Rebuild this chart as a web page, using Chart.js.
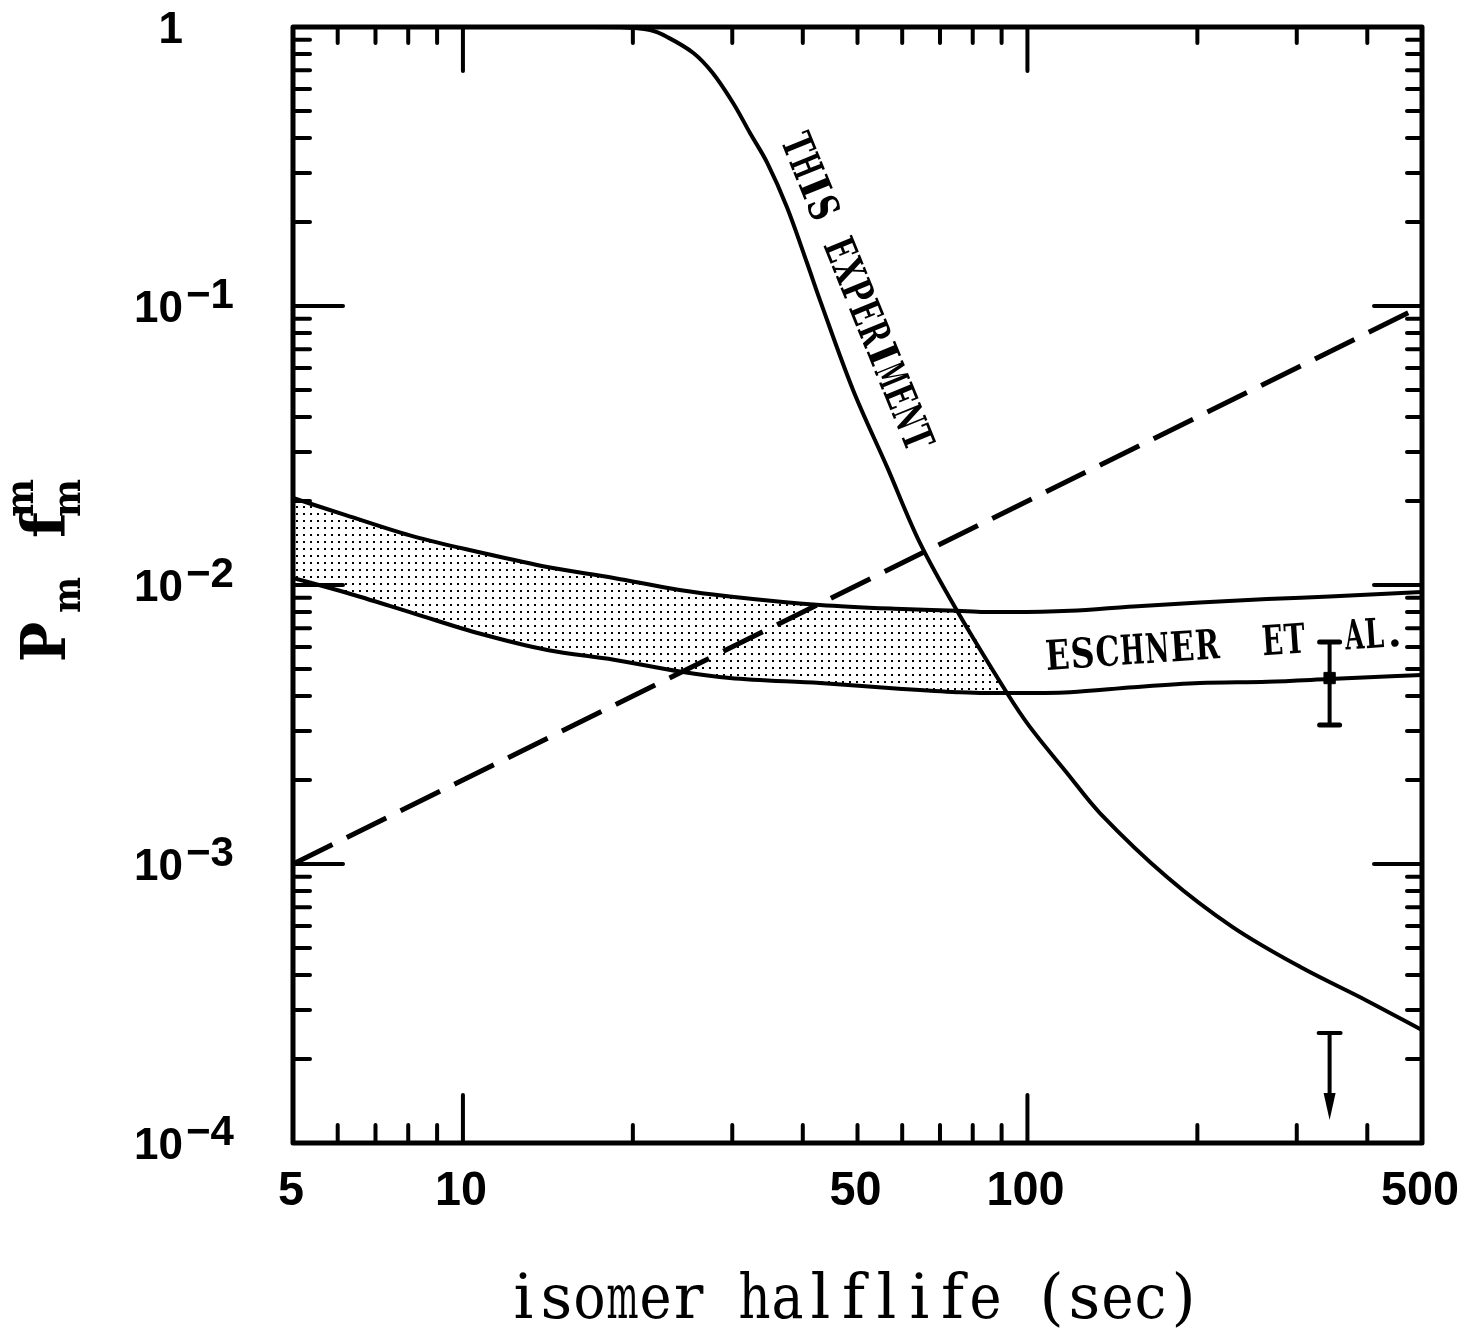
<!DOCTYPE html>
<html>
<head>
<meta charset="utf-8">
<script src="https://cdn.jsdelivr.net/npm/chart.js@4.4.0/dist/chart.umd.min.js"></script>
<style>
  html, body { margin: 0; padding: 0; background: #fff; }
  #wrap { width: 1464px; height: 1333px; }
</style>
</head>
<body>
<div id="wrap"><canvas id="chart" width="1464" height="1333"></canvas></div>
<script>
// "THIS EXPERIMENT" curve
const expX = [5, 10, 15, 19, 21.45, 23.0, 25.6, 27.7, 30.1, 32.25, 34.6, 37.5, 40.7, 42.9, 49.1, 56.4, 64.5, 75, 92, 101, 117.5, 134.5, 176.7, 231, 304, 400, 500];
const expY = [1, 1, 1, 0.998, 0.975, 0.921, 0.807, 0.684, 0.534, 0.417, 0.326, 0.226, 0.1426, 0.105, 0.050, 0.0265, 0.01415, 0.0081, 0.0041, 0.0031, 0.00212, 0.00152, 0.000898, 0.000594, 0.000428, 0.000323, 0.000254];

// Eschner et al. band
const bandX = [5, 6.2, 8.2, 10.7, 14.1, 18.5, 24.2, 29.7, 42.9, 60, 75, 84, 93, 119, 154, 202, 266, 343, 500];
const bandUpper = [0.0205, 0.0178, 0.0149, 0.0131, 0.0116, 0.0106, 0.0096, 0.0091, 0.00848, 0.0082, 0.00808, 0.0080, 0.0080, 0.00808, 0.00838, 0.00865, 0.0089, 0.0091, 0.00944];
const bandLower = [0.0106, 0.0094, 0.0079, 0.0067, 0.00585, 0.0054, 0.0049, 0.00464, 0.00445, 0.00424, 0.00413, 0.0041, 0.0041, 0.00413, 0.0043, 0.00445, 0.0045, 0.0046, 0.00476];

// shaded part of the band (cut off by this experiment)
const shadeX = [5, 6.2, 8.2, 10.7, 14.1, 18.5, 24.2, 29.7, 42.9, 60, 75, 84, 93];
const shadeTop = [0.0205, 0.0178, 0.0149, 0.0131, 0.0116, 0.0106, 0.0096, 0.0091, 0.00848, 0.0082, 0.00808, 0.0056, 0.0041];

// dashed line
const dashX = [5, 500];
const dashY = [0.001, 0.1];

// Eschner point with error bar
const eschX = [343];
const eschY = [0.00464];
const eschLo = [0.00315];
const eschHi = [0.00625];

// upper limit arrow
const limX = [343];
const limY = [0.000248];
const limTip = [0.000121];

// axes
const xMajor = [10, 100];
const xMinor = [6, 7, 8, 9, 20, 30, 40, 50, 60, 70, 80, 90, 200, 300, 400];
const xLabelVals = [5, 10, 50, 100, 500];
const xLabels = ['5', '10', '50', '100', '500'];
const yDecades = [1, 0.1, 0.01, 0.001, 0.0001];
const yExps = ['', '\u22121', '\u22122', '\u22123', '\u22124'];

function pts(xs, ys) {
    return xs.map((v, i) => ({ x: v, y: ys[i] }));
}

// typewriter style: every character in a cell of the same width
function typeText(c, text, x, y, cell) {
    c.textAlign = 'center';
    for (let i = 0; i < text.length; i++) {
        if (text[i] !== ' ') c.fillText(text[i], x + cell * (i + 0.5), y, cell - 1);
    }
}

const ctx = document.getElementById('chart').getContext('2d');

const tile = document.createElement('canvas');
tile.width = 7;
tile.height = 7;
const tc = tile.getContext('2d');
tc.fillStyle = '#000';
tc.fillRect(2, 2, 2, 2);
const dots = ctx.createPattern(tile, 'repeat');

const axesPlugin = {
    id: 'axesPlugin',
    afterDatasetsDraw(chart) {
        const c = chart.ctx;
        const a = chart.chartArea;
        const x = chart.scales.x;
        const y = chart.scales.y;
        c.save();
        c.strokeStyle = '#000';
        c.fillStyle = '#000';
        c.lineCap = 'round';
        const seg = (x1, y1, x2, y2) => { c.beginPath(); c.moveTo(x1, y1); c.lineTo(x2, y2); c.stroke(); };

        c.lineWidth = 4;
        xMinor.forEach(v => {
            const px = x.getPixelForValue(v);
            seg(px, a.bottom, px, a.bottom - 18);
            seg(px, a.top, px, a.top + 16);
        });
        xMajor.forEach(v => {
            const px = x.getPixelForValue(v);
            seg(px, a.bottom, px, a.bottom - 48);
            seg(px, a.top, px, a.top + 44);
        });
        for (let d = 0; d < yDecades.length - 1; d++) {
            const base = yDecades[d + 1];
            for (let k = 2; k <= 9; k++) {
                const py = y.getPixelForValue(base * k);
                seg(a.left, py, a.left + 17, py);
                seg(a.right, py, a.right - 15, py);
            }
            if (d > 0) {
                const py = y.getPixelForValue(yDecades[d]);
                seg(a.left, py, a.left + 50, py);
                seg(a.right, py, a.right - 48, py);
            }
        }

        // frame
        c.lineWidth = 5;
        c.lineJoin = 'round';
        c.strokeRect(a.left, a.top, a.right - a.left, a.bottom - a.top);

        // error bar on Eschner point
        eschX.forEach((v, i) => {
            const px = x.getPixelForValue(v);
            const hi = y.getPixelForValue(eschHi[i]);
            const lo = y.getPixelForValue(eschLo[i]);
            c.lineWidth = 4;
            seg(px, hi, px, lo);
            c.lineWidth = 5;
            seg(px - 10, hi, px + 10, hi);
            seg(px - 10, lo, px + 10, lo);
        });

        // upper limit
        limX.forEach((v, i) => {
            const px = x.getPixelForValue(v);
            const top = y.getPixelForValue(limY[i]);
            const tip = y.getPixelForValue(limTip[i]);
            c.lineWidth = 4;
            seg(px - 11, top, px + 11, top);
            seg(px, top, px, tip - 20);
            c.beginPath();
            c.moveTo(px - 6, tip - 27);
            c.lineTo(px + 6, tip - 27);
            c.lineTo(px, tip);
            c.closePath();
            c.fill();
        });
        c.restore();
    },
    afterDraw(chart) {
        const c = chart.ctx;
        const a = chart.chartArea;
        const x = chart.scales.x;
        const y = chart.scales.y;
        c.save();
        c.fillStyle = '#000';
        c.textBaseline = 'alphabetic';

        // x tick labels
        c.font = 'bold 48px "Liberation Sans"';
        c.textAlign = 'center';
        xLabelVals.forEach((v, i) => {
            c.fillText(xLabels[i], x.getPixelForValue(v) - 2, a.bottom + 62, xLabels[i].length * 26);
        });

        // y tick labels
        yDecades.forEach((v, i) => {
            const py = y.getPixelForValue(v);
            c.font = 'bold 44px "Liberation Sans"';
            c.textAlign = 'right';
            c.fillText(i === 0 ? '1' : '10', 183, py + 16);
            if (yExps[i]) {
                c.font = 'bold 42px "Liberation Sans"';
                c.textAlign = 'left';
                c.fillText(yExps[i], 186, py + 2);
            }
        });

        // x title
        c.font = '62px "DejaVu Serif"';
        typeText(c, 'isomer halflife (sec)', 507, 1318, 33);

        // y title
        c.save();
        c.translate(65, 660);
        c.rotate(-Math.PI / 2);
        c.textAlign = 'center';
        c.font = 'bold 62px "DejaVu Serif"';
        c.fillText('P', 18, 0, 40);
        c.font = 'bold 60px "DejaVu Serif"';
        c.fillText('f', 135, 0, 32);
        c.font = 'bold 40px "DejaVu Serif"';
        c.fillText('m', 65, 15, 36);
        c.fillText('m', 162, 15, 38);
        c.fillText('m', 162, -32, 38);
        c.restore();

        // THIS EXPERIMENT
        c.save();
        c.translate(780, 140);
        c.rotate(67.8 * Math.PI / 180);
        c.font = 'bold 42px "DejaVu Serif"';
        typeText(c, 'THIS EXPERIMENT', 0, 0, 22.6);
        c.restore();

        // ESCHNER ET AL.
        c.save();
        c.translate(1046, 670);
        c.rotate(-3.9 * Math.PI / 180);
        c.font = 'bold 41px "DejaVu Serif"';
        typeText(c, 'ESCHNER', 0, 0, 25);
        typeText(c, 'ET', 217, 0, 22);
        typeText(c, 'AL.', 300, 0, 20);
        c.restore();

        c.restore();
    }
};

new Chart(ctx, {
    type: 'line',
    data: {
        datasets: [
            { label: 'shade', data: pts(shadeX, shadeTop), borderWidth: 0, pointRadius: 0, fill: 2, backgroundColor: dots, cubicInterpolationMode: 'monotone' },
            { label: 'upper', data: pts(bandX, bandUpper), borderColor: '#000', borderWidth: 4, pointRadius: 0, fill: false, cubicInterpolationMode: 'monotone' },
            { label: 'lower', data: pts(bandX, bandLower), borderColor: '#000', borderWidth: 4, pointRadius: 0, fill: false, cubicInterpolationMode: 'monotone' },
            { label: 'this experiment', data: pts(expX, expY), borderColor: '#000', borderWidth: 4, pointRadius: 0, fill: false, tension: 0.35 },
            { label: 'dashed', data: pts(dashX, dashY), borderColor: '#000', borderWidth: 5, borderDash: [44, 16], pointRadius: 0, fill: false },
            { label: 'Eschner et al.', type: 'scatter', data: pts(eschX, eschY), pointStyle: 'rect', pointRadius: 8, backgroundColor: '#000', borderColor: '#000', showLine: false }
        ]
    },
    options: {
        responsive: false,
        animation: false,
        layout: { padding: { left: 293, right: 42, top: 27, bottom: 190 } },
        plugins: { legend: { display: false }, tooltip: { enabled: false } },
        scales: {
            x: { type: 'logarithmic', min: 5, max: 500, display: false },
            y: { type: 'logarithmic', min: 0.0001, max: 1, display: false }
        }
    },
    plugins: [axesPlugin]
});
</script>
</body>
</html>
